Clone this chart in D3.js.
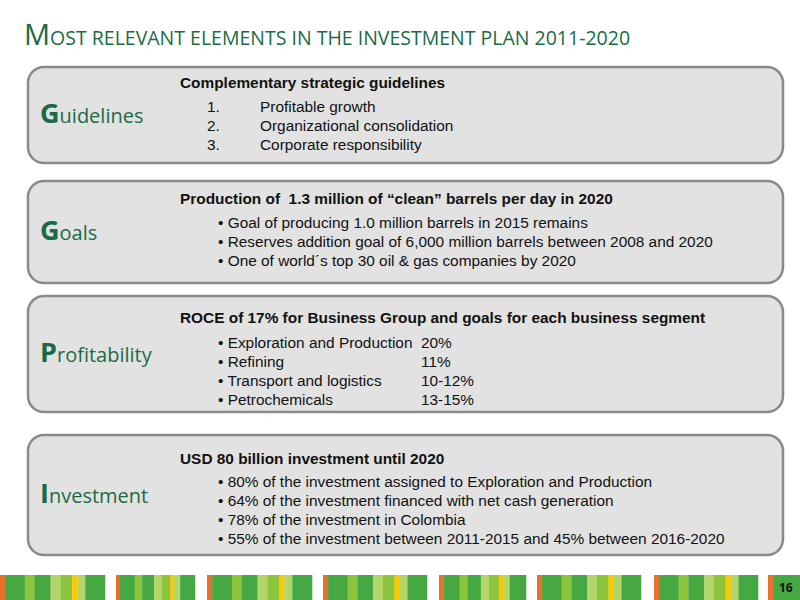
<!DOCTYPE html><html><head><meta charset="utf-8">
<script src="https://cdn.jsdelivr.net/npm/d3@7"></script>
<style>body{margin:0;background:#fff} text{white-space:pre}</style></head><body><svg id="s" width="800" height="600"></svg>
<script>
const sections = ["Guidelines","Goals","Profitability","Investment"];
const headings = ["Complementary strategic guidelines",
 "Production of  1.3 million of \u201cclean\u201d barrels per day in 2020",
 "ROCE of 17% for Business Group and goals for each business segment",
 "USD 80 billion investment until 2020"];
const items = [
 [["1.","Profitable growth"],["2.","Organizational consolidation"],["3.","Corporate responsibility"]],
 [["\u2022 Goal of producing 1.0 million barrels in 2015 remains"],["\u2022 Reserves addition goal of 6,000 million barrels between 2008 and 2020"],["\u2022 One of world\u00b4s top 30 oil & gas companies by 2020"]],
 [["\u2022 Exploration and Production","20%"],["\u2022 Refining","11%"],["\u2022 Transport and logistics","10-12%"],["\u2022 Petrochemicals","13-15%"]],
 [["\u2022 80% of the investment assigned to Exploration and Production"],["\u2022 64% of the investment financed with net cash generation"],["\u2022 78% of the investment in Colombia"],["\u2022 55% of the investment between 2011-2015 and 45% between 2016-2020"]]
];
const boxTop=[67,181,296,435], boxBot=[163,283,412,555];
const headY=[88,204,323,464], firstY=[112,228,348,487];
const blockStarts=[0,116,207,323,439,537,654,768], blockEnds=[105,195,312,427,526,641,758,800];
const stripeColors=["#e8702a","#46a843","#8cc43e","#46a843","#b2d66a","#8cc43e","#fcc800","#b2d66a","#46a843"];
const stripeWeights=[1.3,5,2.5,4,2.5,3,1.3,2,5];

const svg=d3.select("#s");
const green="#1a6b45";
const t=svg.append("text").attr("x",24).attr("y",45).attr("fill",green).attr("font-family","Open Sans");
t.append("tspan").attr("font-size",29).text("M");
t.append("tspan").attr("font-size",19.5).text("OST RELEVANT ELEMENTS IN THE INVESTMENT PLAN 2011-2020");

const fs=15.4;
sections.forEach((name,i)=>{
 svg.append("rect").attr("x",28).attr("y",boxTop[i]).attr("width",755).attr("height",boxBot[i]-boxTop[i])
  .attr("rx",16).attr("fill","#e2e2e2").attr("stroke","#8a8a8a").attr("stroke-width",2.5);
 const my=(boxTop[i]+boxBot[i])/2+8;
 const l=svg.append("text").attr("x",40).attr("y",my).attr("fill",green).attr("font-family","Open Sans");
 l.append("tspan").attr("font-size",27).attr("font-weight","bold").text(name[0]);
 l.append("tspan").attr("font-size",20).text(name.slice(1));
 svg.append("text").attr("x",180).attr("y",headY[i]).attr("font-family","Liberation Sans, Arial").attr("font-size",fs)
  .attr("font-weight","bold").attr("fill","#111").text(headings[i]);
 items[i].forEach((it,j)=>{
  const y=firstY[i]+j*19;
  svg.append("text").attr("x",i===0?207:218).attr("y",y).attr("font-family","Liberation Sans, Arial").attr("font-size",fs).attr("fill","#111").text(it[0]);
  if(it[1]) svg.append("text").attr("x",i===0?260:421).attr("y",y).attr("font-family","Liberation Sans, Arial").attr("font-size",fs).attr("fill","#111").text(it[1]);
 });
});

const tw=d3.sum(stripeWeights);
blockStarts.forEach((x0,b)=>{
 const w=b===7?100:blockEnds[b]-x0;
 const sc=d3.scaleLinear().domain([0,tw]).range([x0,x0+w]);
 let acc=0;
 stripeWeights.forEach((wt,k)=>{
  svg.append("rect").attr("x",sc(acc)).attr("y",575).attr("width",sc(acc+wt)-sc(acc)+0.3).attr("height",25).attr("fill",stripeColors[k]);
  acc+=wt;
 });
});
svg.append("rect").attr("x",768).attr("y",575).attr("width",32).attr("height",25).attr("fill","#46a843");
svg.append("rect").attr("x",768).attr("y",575).attr("width",6).attr("height",25).attr("fill","#e8702a");
svg.append("text").attr("x",779).attr("y",592).attr("font-family","Open Sans").attr("font-weight","bold").attr("font-size",12).attr("fill","#111").text("16");
</script></body></html>
